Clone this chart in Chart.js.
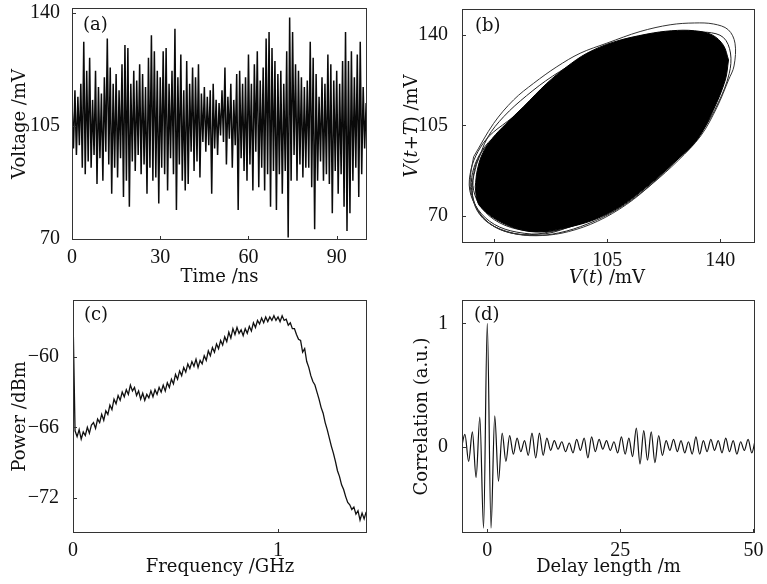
<!DOCTYPE html>
<html><head><meta charset="utf-8">
<script src="https://cdn.jsdelivr.net/npm/chart.js@4.4.1/dist/chart.umd.min.js"></script>
<style>
html,body{margin:0;padding:0;background:#fff;}
body{width:767px;height:584px;position:relative;overflow:hidden;}
canvas{position:absolute;}
</style></head><body>
<canvas id="ca" width="383" height="290" style="left:0;top:0"></canvas>
<canvas id="cb" width="384" height="290" style="left:383px;top:0"></canvas>
<canvas id="cc" width="383" height="294" style="left:0;top:290px"></canvas>
<canvas id="cd" width="384" height="294" style="left:383px;top:290px"></canvas>
<script>
// ---------- (a) time series ----------
const timeStartNs = 0, timeStepNs = 0.5;
const voltageMv = [
112,98,116,96,114,99,118,92,131,90,122,94,126,92,113,96,122,87,117,95,
115,88,120,97,132,93,123,84,118,92,121,89,116,95,124,83,130,88,129,80,
118,94,122,91,119,96,124,90,121,93,117,84,126,92,133,88,128,89,122,81,
120,92,128,90,129,85,118,95,122,90,135,79,120,93,127,88,116,85,125,87,
118,97,123,91,120,94,124,89,115,100,117,97,114,99,116,84,118,98,113,96,
112,102,116,100,123,93,114,101,118,92,113,99,121,79,122,95,118,91,120,88,
127,93,118,85,124,97,128,86,119,92,123,85,132,90,134,80,129,91,125,79,
121,90,122,84,118,91,128,70.5,138.5,88,134,96,124,88,122,93,120,89,117,92,
119,92,131,86,126,73,121,88,114,94,120,88,118,90,127,87,124,78,119,91,
122,84,118,90,125,80,134,72.5,125,78,128,88,120,92,127,83,131,90,117,98,
112];
const ticksAx = [0,30,60,90];
const ticksAy = [70,105,140];

// ---------- (b) phase portrait V(t) vs V(t+T) ----------
const attractorUpper = [[64.1,81.3],[64.7,87.5],[66.3,94],[69.4,100],[73.5,105.5],[79.1,112.3],[86.3,121.3],[92.5,127.7],[98.7,132.9],[106.9,137.2],[117.3,140.3],[125,141.6],[132,141.6],[137.5,140],[141,136],[142.6,130.3]];
const attractorLower = [[64.1,81.3],[64.6,76.5],[65.7,73.6],[70.8,68.5],[78,64.8],[84.2,63.9],[92.5,65.6],[100.8,68.5],[109,73.6],[117.3,81.3],[125.5,90.4],[132.8,99.4],[137.9,111],[141.6,122.6],[142.6,130.3]];
const orbitOuter = [[63.6,92.9],[69.8,105.8],[76,114.9],[82.2,121.3],[89.4,127.7],[96.6,132.9],[104.9,136.8],[115.2,141.3],[124.5,143.9],[132,144.6],[138,144.2],[142.5,142],[144.6,136.8],[144.3,128],[142.6,122.6],[139,112],[134,101],[127,91.5],[119,82.5],[111,74.5],[102,68],[93,64],[85,62.5],[77,63],[70,66],[65.5,71],[63,78],[62.6,85],[63.6,92.9]];
const orbitInner = [[64.5,90],[68,100.5],[73,108.5],[80,116.5],[88,124],[97,130.5],[107,135.5],[118,139],[128,140.5],[136,141],[141,139],[143.2,133],[142.8,125],[139.5,114],[134,102],[126,91],[117,80.5],[108,72.5],[99,67],[90,63.5],[82,62.5],[74,64],[67.5,68],[64,74],[63.2,82],[64.5,90]];
const orbitLeftA = [[95,66.5],[86,63.2],[77,63.8],[70,66.8],[65,72.5],[62.4,80],[62.8,88],[65,95],[68.5,101],[74,106.5],[80,112]];
const orbitLeftB = [[98,67.5],[88,64.2],[79,64.5],[71.5,67.5],[66.2,73],[63.6,80],[63.8,87.5],[66,94.5],[70,100],[75,104.5]];
const orbitLeftC = [[90,64.6],[81,62.8],[73,64.2],[67.2,68.6],[63.9,75],[62.9,83],[64.2,90.5],[67.2,97],[71.5,102.5]];
const ticksB = [70,105,140];

// ---------- (c) power spectrum ----------
const freqStartGHz = 0, freqStepGHz = 0.01;
const powerDbm = [
-56.4,-66.3,-66.8,-66.2,-67.0,-66.4,-66.7,-66.0,-66.5,-65.8,
-65.6,-66.1,-65.3,-65.6,-64.9,-65.4,-64.6,-64.9,-64.1,-64.5,
-63.6,-64.0,-63.3,-63.7,-63.0,-63.4,-62.8,-63.2,-62.4,-62.9,
-62.6,-63.3,-62.9,-63.6,-63.1,-63.7,-63.2,-63.5,-62.9,-63.4,
-62.8,-63.2,-62.6,-63.0,-62.4,-62.9,-62.2,-62.6,-61.9,-62.3,
-61.5,-61.9,-61.2,-61.6,-60.9,-61.3,-60.6,-61.0,-60.4,-60.8,
-60.2,-60.9,-60.3,-60.6,-59.9,-60.3,-59.5,-59.9,-59.2,-59.6,
-58.9,-59.3,-58.6,-59.0,-58.3,-58.7,-57.9,-58.4,-57.6,-58.1,
-57.5,-58.0,-57.7,-58.2,-57.6,-58.0,-57.4,-57.8,-57.1,-57.5,
-56.9,-57.2,-56.7,-57.1,-56.6,-57.0,-56.6,-56.9,-56.5,-56.9,
-56.6,-57.0,-56.5,-56.9,-56.8,-57.3,-57.1,-57.6,-57.6,-58.1,
-58.5,-58.6,-59.6,-59.3,-60.4,-60.9,-61.6,-62.1,-62.4,-63.0,
-63.6,-64.3,-64.8,-65.6,-66.2,-66.9,-67.6,-68.2,-68.9,-69.7,
-70.2,-70.9,-71.3,-71.9,-72.4,-72.6,-73.0,-72.8,-73.4,-73.1,
-73.9,-73.3,-73.8,-73.2];
const ticksCx = [0,1];
const ticksCy = [-72,-66,-60];

// ---------- (d) autocorrelation ----------
const delayStartM = -4.9, delayStepM = 0.7;
const correlation = [
-0.02,0.10,-0.12,0.12,-0.25,0.24,-0.66,1.0,-0.66,0.25,
-0.28,0.11,-0.12,0.09,-0.06,0.07,-0.04,0.05,-0.07,0.11,
-0.09,0.11,-0.07,0.07,-0.03,0.05,-0.02,0.04,-0.04,0.03,
-0.05,0.06,-0.03,0.07,-0.09,0.08,-0.04,0.06,-0.02,0.05,
-0.03,0.04,-0.05,0.08,-0.06,0.07,-0.08,0.15,-0.14,0.13,
-0.11,0.12,-0.13,0.09,-0.07,0.05,-0.03,0.06,-0.04,0.05,
-0.05,0.04,-0.06,0.08,-0.06,0.05,-0.04,0.06,-0.03,0.05,
-0.05,0.07,-0.04,0.05,-0.06,0.04,-0.03,0.06,-0.05,0.07];
const ticksDx = [0,25,50];
const ticksDy = [0,1];

// ---------- helpers ----------
const INK = '#111';
const TITLE_FONT = {family:'"DejaVu Serif", serif', size:18, lineHeight:1};
const TICK_FONT = {family:'"Liberation Serif", serif', size:20, lineHeight:1};
Chart.defaults.color = INK;
Chart.defaults.animation = false;

const series = (start, step, vals) => vals.map((v,i) => ({x: start + i*step, y: v}));
const pairs = arr => arr.map(p => ({x:p[0], y:p[1]}));
const fmt = v => String(v).replace('-', '\u2212');

const framePlugin = {
  id: 'frame',
  afterDatasetsDraw(chart, args, o) {
    const {ctx, chartArea: a, scales} = chart;
    ctx.save();
    ctx.strokeStyle = '#333'; ctx.lineWidth = 1;
    ctx.strokeRect(Math.round(a.left)+0.5, Math.round(a.top)+0.5, Math.round(a.width)-1, Math.round(a.height)-1);
    ctx.beginPath();
    scales.x.ticks.forEach(t => { const p = Math.round(scales.x.getPixelForValue(t.value))+0.5; ctx.moveTo(p, a.bottom); ctx.lineTo(p, a.bottom-4); });
    scales.y.ticks.forEach(t => { const p = Math.round(scales.y.getPixelForValue(t.value))+0.5; ctx.moveTo(a.left, p); ctx.lineTo(a.left+4, p); });
    ctx.stroke();
    ctx.fillStyle = INK;
    ctx.font = '18px "DejaVu Serif", serif';
    ctx.textBaseline = 'middle'; ctx.textAlign = 'left';
    ctx.fillText(o.label, a.left + o.dx, a.top + o.dy);
    if (o.rich) {
      o.rich.forEach(r => {
        const parts = r.parts;
        let w = 0;
        parts.forEach(p => { ctx.font = (p[1] ? 'italic ' : '') + '18px "DejaVu Serif", serif'; w += ctx.measureText(p[0]).width; });
        ctx.save();
        ctx.translate(r.x, r.y);
        if (r.rot) ctx.rotate(-Math.PI/2);
        let x = -w/2;
        parts.forEach(p => { ctx.font = (p[1] ? 'italic ' : '') + '18px "DejaVu Serif", serif'; ctx.fillText(p[0], x, 0); x += ctx.measureText(p[0]).width; });
        ctx.restore();
      });
    }
    ctx.restore();
  }
};

function makeChart(id, g, datasets, xs, ys, label, rich) {
  const mkScale = (s, isX) => ({
    type: 'linear', min: s.min, max: s.max,
    afterBuildTicks: sc => { sc.ticks = s.ticks.map(v => ({value: v})); },
    grid: {display: false}, border: {display: false},
    ticks: {font: TICK_FONT, color: INK, padding: s.tp, maxRotation: 0, autoSkip: false, callback: fmt},
    title: {display: !!s.title, text: s.title || '', font: TITLE_FONT, color: INK,
            padding: isX ? {top:0, bottom: s.pad} : {top: s.pad, bottom: 0}},
    afterFit: sc => {
      if (isX) { sc.height = g.B; sc.paddingLeft = 0; sc.paddingRight = 0; }
      else { sc.width = g.L; sc.paddingTop = 0; sc.paddingBottom = 0; }
    }
  });
  return new Chart(document.getElementById(id), {
    type: 'line',
    data: {datasets},
    options: {
      responsive: false, animation: false, events: [],
      layout: {padding: {left: 0, top: g.T, right: g.R, bottom: 0}},
      plugins: {legend: {display: false}, tooltip: {enabled: false}, frame: {label, dx: g.dx, dy: g.dy, rich}},
      scales: {x: mkScale(xs, true), y: mkScale(ys, false)}
    },
    plugins: [framePlugin]
  });
}

const lineDs = (data, extra) => Object.assign({data, borderColor: INK, borderWidth: 1, pointRadius: 0, fill: false, tension: 0}, extra || {});

// (a)
makeChart('ca', {L:72, T:8, R:16, B:50, dx:11, dy:17},
  [lineDs(series(timeStartNs, timeStepNs, voltageMv), {borderWidth: 1.5, borderColor: '#0a0a0a'})],
  {min:0, max:100.3, ticks:ticksAx, tp:0, title:'Time /ns', pad:4},
  {min:69.7, max:141.4, ticks:ticksAy, tp:4, title:'Voltage /mV', pad:11},
  '(a)');

// (b)
makeChart('cb', {L:79, T:9, R:12, B:47, dx:13, dy:17},
  [
    lineDs(pairs(attractorUpper), {fill: '+1', backgroundColor: '#000', borderColor: '#000', tension: 0.35}),
    lineDs(pairs(attractorLower), {borderColor: '#000', tension: 0.35}),
    lineDs(pairs(orbitOuter), {tension: 0.35, borderColor: '#333'}),
    lineDs(pairs(orbitInner), {tension: 0.35, borderColor: '#222'}),
    lineDs(pairs(orbitLeftA), {tension: 0.35, borderColor: '#222'}),
    lineDs(pairs(orbitLeftB), {tension: 0.35, borderColor: '#222'}),
    lineDs(pairs(orbitLeftC), {tension: 0.35, borderColor: '#222'})
  ],
  {min:60, max:150.8, ticks:ticksB, tp:0, title:'', pad:4},
  {min:59.6, max:150, ticks:ticksB, tp:6, title:'', pad:23},
  '(b)',
  [
    {x: 224, y: 278, rot: false, parts: [['V',true],['(',false],['t',true],[') /mV',false]]},
    {x: 29, y: 126, rot: true, parts: [['V',true],['(',false],['t',true],['+',false],['T',true],[') /mV',false]]}
  ]);

// (c)
makeChart('cc', {L:73, T:10, R:16, B:51, dx:11, dy:15},
  [lineDs(series(freqStartGHz, freqStepGHz, powerDbm), {borderWidth: 1.3})],
  {min:0, max:1.434, ticks:ticksCx, tp:0, title:'Frequency /GHz', pad:8},
  {min:-75, max:-55.16, ticks:ticksCy, tp:6, title:'Power /dBm', pad:11},
  '(c)');

// (d)
makeChart('cd', {L:79, T:10, R:12, B:51, dx:12, dy:15},
  [lineDs(series(delayStartM, delayStepM, correlation), {cubicInterpolationMode: 'monotone', borderWidth: 1.2})],
  {min:-4.75, max:50.3, ticks:ticksDx, tp:0, title:'Delay length /m', pad:8},
  {min:-0.7, max:1.19, ticks:ticksDy, tp:6, title:'Correlation (a.u.)', pad:30},
  '(d)');
</script>
</body></html>
